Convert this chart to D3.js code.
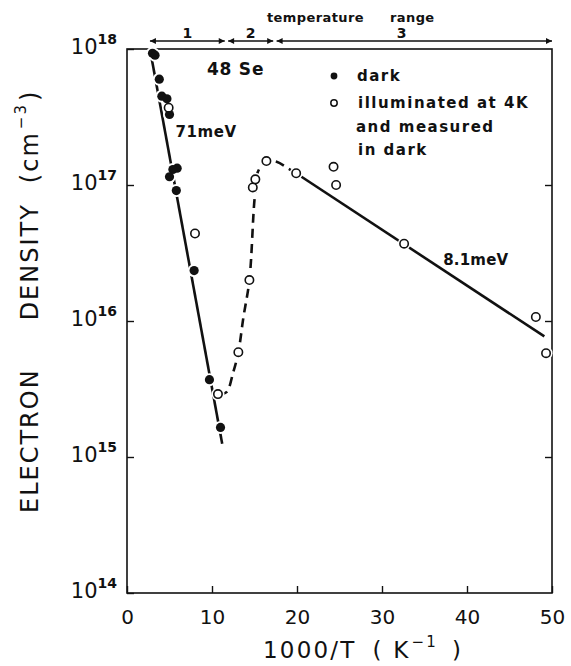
<!DOCTYPE html>
<html>
<head>
<meta charset="utf-8">
<script src="https://cdn.jsdelivr.net/npm/d3@7"></script>
<style>
	body { margin: 0; background: #fff; }
	text { font-family: 'DejaVu Sans', sans-serif; fill: #111; }
</style>
</head>
<body>
<svg id="main"></svg>
<script>
// data: x = 1000/T (K^-1), y = electron density (cm^-3)
var darkX = [3.0, 3.3, 3.8, 4.1, 4.7, 5.0, 5.9, 5.4, 5.0, 5.8, 7.9, 9.7, 11.0];
var darkY = [9.3e17, 9.0e17, 6.0e17, 4.5e17, 4.3e17, 3.3e17, 1.33e17, 1.3e17, 1.15e17, 9.1e16, 2.35e16, 3.7e15, 1.65e15];
var illumX = [4.9, 8.0, 10.7, 13.1, 14.4, 14.8, 15.1, 16.4, 19.9, 24.3, 24.6, 32.6, 48.1, 49.3];
var illumY = [3.7e17, 4.4e16, 2.9e15, 5.9e15, 2.0e16, 9.6e16, 1.1e17, 1.5e17, 1.22e17, 1.36e17, 1.0e17, 3.7e16, 1.07e16, 5.8e15];

// fitted lines drawn in the figure
var fit71X = [2.7, 11.2];
var fit71Y = [1e18, 1.25e15];
var humpX = [10.8, 11.7, 12.5, 13.1, 13.7, 14.4, 15.0, 15.4, 16.4, 17.6, 19.0, 19.9];
var humpY = [2.9e15, 3.0e15, 4.2e15, 5.9e15, 1.07e16, 2.0e16, 7.8e16, 1.25e17, 1.5e17, 1.48e17, 1.32e17, 1.22e17];
var fit81X = [19.9, 49.1];
var fit81Y = [1.22e17, 7.7e15];

var xTicks = [0, 10, 20, 30, 40, 50];
var yTicks = [1e14, 1e15, 1e16, 1e17, 1e18];
var ranges = [[2.7, 11.5, '1'], [11.9, 17.2, '2'], [17.6, 50, '3']];

var width = 571, height = 666;
var m = {left: 127, right: 552, top: 49, bottom: 593};

var svg = d3.select('#main').attr('width', width).attr('height', height);
var defs = svg.append('defs');

var x = d3.scaleLinear().domain([0, 50]).range([m.left, m.right]);
var y = d3.scaleLog().domain([1e14, 1e18]).range([m.bottom, m.top]);

// arrow heads for the temperature ranges
['start', 'end'].forEach(k => {
	defs.append('marker')
		.attr('id', 'arr-' + k)
		.attr('viewBox', '0 0 10 10')
		.attr('refX', k === 'end' ? 10 : 0).attr('refY', 5)
		.attr('markerWidth', 9).attr('markerHeight', 6)
		.attr('markerUnits', 'userSpaceOnUse')
		.attr('orient', 'auto')
		.append('path')
		.attr('d', k === 'end' ? 'M0,0 L10,5 L0,10 z' : 'M10,0 L0,5 L10,10 z')
		.attr('fill', '#111');
});

// frame
svg.append('rect')
	.attr('x', m.left).attr('y', m.top)
	.attr('width', m.right - m.left).attr('height', m.bottom - m.top)
	.attr('fill', 'none').attr('stroke', '#111').attr('stroke-width', 1.6);

// axes
var gx = svg.append('g').attr('transform', `translate(0,${m.bottom})`)
	.call(d3.axisBottom(x).tickValues(xTicks).tickSize(-7).tickPadding(17).tickSizeOuter(0));
gx.selectAll('text').attr('font-size', 20).attr('dy', '0.71em');

var gy = svg.append('g').attr('transform', `translate(${m.left},0)`)
	.call(d3.axisLeft(y).tickValues(yTicks).tickSize(-7).tickPadding(10).tickSizeOuter(0));
gy.selectAll('.tick text').text(null).attr('dy', '0.45em').each(function(d) {
	var t = d3.select(this);
	t.append('tspan').attr('font-size', 21).text('10');
	t.append('tspan').attr('font-size', 14).attr('font-weight', 'bold').attr('dy', -10).text(Math.round(Math.log10(d)));
});

var gr = svg.append('g').attr('transform', `translate(${m.right},0)`)
	.call(d3.axisRight(y).tickValues(yTicks.slice(1, -1)).tickSize(-7).tickFormat('').tickSizeOuter(0));

[gx, gy, gr].forEach(g => {
	g.select('.domain').remove();
	g.selectAll('line').attr('stroke', '#111').attr('stroke-width', 1.4);
	g.selectAll('text').attr('fill', '#111').attr('font-family', "'DejaVu Sans', sans-serif");
});

// axis titles
var xtitle = svg.append('text')
	.attr('x', 263).attr('y', 658)
	.attr('font-size', 23).attr('letter-spacing', 2.2);
xtitle.append('tspan').text('1000/T');
xtitle.append('tspan').attr('dx', 16).text('( K');
xtitle.append('tspan').attr('font-size', 15).attr('dy', -11).attr('dx', 1).text('−1');
xtitle.append('tspan').attr('dy', 11).attr('dx', 14).text(')');

var ytitle = svg.append('text')
	.attr('transform', 'translate(38,513) rotate(-90)')
	.attr('font-size', 24).attr('letter-spacing', 2);
ytitle.append('tspan').text('ELECTRON');
ytitle.append('tspan').attr('dx', 48).text('DENSITY');
ytitle.append('tspan').attr('dx', 20).text('(cm');
ytitle.append('tspan').attr('font-size', 15).attr('dy', -12).attr('dx', 2).text('−3');
ytitle.append('tspan').attr('dy', 12).attr('dx', 2).text(')');

// fitted lines
var line = d3.line().x(d => x(d[0])).y(d => y(d[1]));
var curve = d3.line().x(d => x(d[0])).y(d => y(d[1])).curve(d3.curveCatmullRom);
var lines = svg.append('g').attr('fill', 'none').attr('stroke', '#111').attr('stroke-width', 2.6);
lines.append('path').attr('d', line(d3.zip(fit71X, fit71Y)));
lines.append('path').attr('d', curve(d3.zip(humpX, humpY))).attr('stroke-dasharray', '9,6');
lines.append('path').attr('d', line(d3.zip(fit81X, fit81Y)));

// points, with a white halo that breaks the lines like in the print
var pts = svg.append('g');
var dark = d3.zip(darkX, darkY), illum = d3.zip(illumX, illumY);
pts.selectAll('.halo').data(dark.concat(illum)).join('circle')
	.attr('cx', d => x(d[0])).attr('cy', d => y(d[1])).attr('r', 6.5).attr('fill', '#fff');
pts.selectAll('.dark').data(dark).join('circle')
	.attr('cx', d => x(d[0])).attr('cy', d => y(d[1])).attr('r', 4.6).attr('fill', '#111');
pts.selectAll('.illum').data(illum).join('circle')
	.attr('cx', d => x(d[0])).attr('cy', d => y(d[1])).attr('r', 4.2)
	.attr('fill', '#fff').attr('stroke', '#111').attr('stroke-width', 1.6);

// annotations
var ann = svg.append('g').attr('font-weight', 'bold');
ann.append('text').attr('x', x(9.4)).attr('y', y(6.4e17)).attr('font-size', 17).attr('letter-spacing', 0.8).text('48 Se');
ann.append('text').attr('x', x(5.7)).attr('y', y(2.25e17)).attr('font-size', 15).attr('letter-spacing', 0.6).text('71meV');
ann.append('text').attr('x', x(37.2)).attr('y', y(2.6e16)).attr('font-size', 15).attr('letter-spacing', 0.2).text('8.1meV');

// legend
var leg = svg.append('g').attr('font-weight', 'bold').attr('font-size', 15).attr('letter-spacing', 1.5);
leg.append('circle').attr('cx', 334).attr('cy', 76).attr('r', 3.4).attr('fill', '#111');
leg.append('circle').attr('cx', 334).attr('cy', 103).attr('r', 3.2).attr('fill', '#fff').attr('stroke', '#111').attr('stroke-width', 1.5);
leg.append('text').attr('x', 357).attr('y', 81).text('dark');
leg.append('text').attr('x', 358).attr('y', 108).text('illuminated at 4K');
leg.append('text').attr('x', 356).attr('y', 132).text('and measured');
leg.append('text').attr('x', 358).attr('y', 155).text('in dark');

// temperature ranges above the frame
var hdr = svg.append('g').attr('font-weight', 'bold');
hdr.append('text').attr('x', 267).attr('y', 22).attr('font-size', 13).attr('letter-spacing', 0.4).text('temperature');
hdr.append('text').attr('x', 390).attr('y', 22).attr('font-size', 13).attr('letter-spacing', 0.4).text('range');
ranges.forEach(r => {
	hdr.append('line')
		.attr('x1', x(r[0])).attr('x2', x(r[1])).attr('y1', 41).attr('y2', 41)
		.attr('stroke', '#111').attr('stroke-width', 1.5)
		.attr('marker-start', 'url(#arr-start)').attr('marker-end', 'url(#arr-end)');
	hdr.append('text')
		.attr('x', r[2] === '3' ? x(32.3) : x((r[0] + r[1]) / 2)).attr('y', 38)
		.attr('text-anchor', 'middle').attr('font-size', 14).text(r[2]);
});
</script>
</body>
</html>
